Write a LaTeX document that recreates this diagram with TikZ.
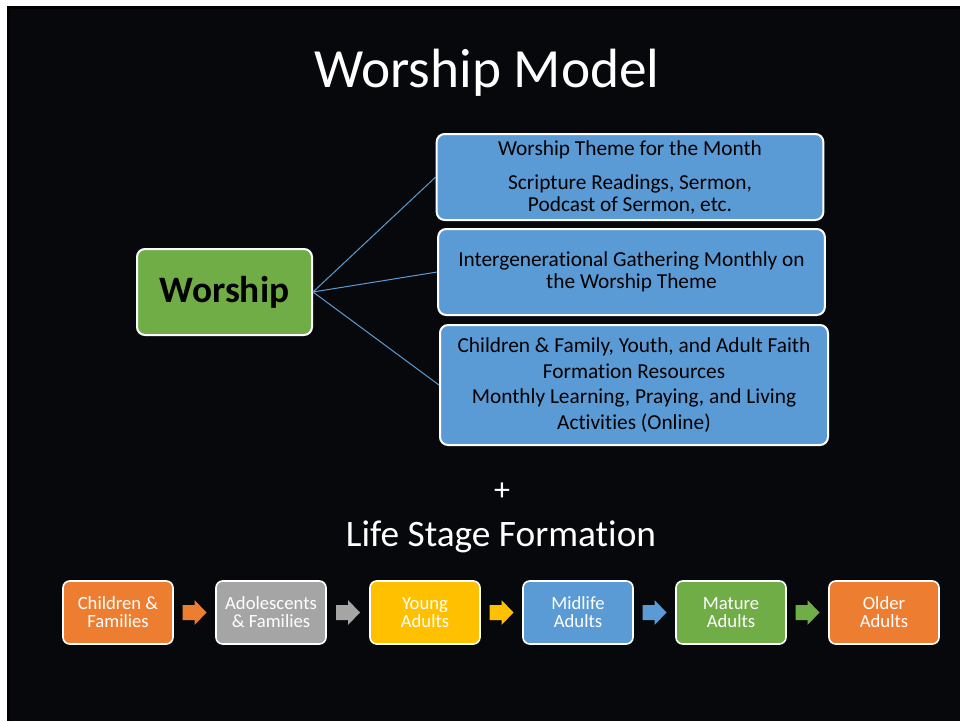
\documentclass[tikz,border=0pt]{standalone}
\usepackage{fontspec}
\setmainfont[Ligatures=NoCommon]{Carlito}
\usetikzlibrary{calc}
\definecolor{slidebg}{HTML}{07080B}
\definecolor{accorange}{HTML}{ED7D31}
\definecolor{accgray}{HTML}{A5A5A5}
\definecolor{accgold}{HTML}{FFC000}
\definecolor{accblue}{HTML}{5B9BD5}
\definecolor{accgreen}{HTML}{70AD47}
\tikzset{x=0.75pt, y=-0.75pt,
  theme box/.style={draw=white, line width=1.5pt, fill=accblue, rounded corners=6pt,
        minimum width=290pt, minimum height=64.5pt, align=center, inner sep=0pt,
        text=black, font=\fontsize{16}{16.5}\selectfont},
  core box/.style={draw=white, line width=1.5pt, fill=accgreen, rounded corners=6pt,
        minimum width=131.25pt, minimum height=64.5pt, text=black,
        font=\fontsize{28}{30}\selectfont\bfseries},
  stage box/.style={draw=white, line width=1.2pt, fill=#1, rounded corners=5pt,
        minimum width=82.5pt, minimum height=47.25pt, align=center, inner sep=0pt,
        text=white, font=\fontsize{14}{13.5}\selectfont},
  link/.style={draw=accblue, line width=0.75pt}
}
\def\StageArrow#1#2#3{%
\path ($(#1.east)!0.5!(#2.west)$) coordinate (#1 to #2);
\fill[#3] (#1 to #2) ++(-12,-7.5) -- ++(12,0) -- ++(0,-5) -- ++(12,12.5)
   -- ++(-12,12.5) -- ++(0,-5) -- ++(-12,0) -- cycle;
}

\begin{document}
\begin{tikzpicture}
\useasboundingbox (0,0) rectangle (960,721);
\fill[white] (0,0) rectangle (960,721);
\fill[black] (7,6) rectangle (960,721);
\fill[slidebg] (10,9) rectangle (960,721);

\node[text=white, font=\fontsize{41.5}{44}\selectfont] (title) at (487,73) {Worship Model};

\node[core box] (worship) at (224.5,292) {Worship};

\node[theme box] (month) at (630,177) {Worship Theme for the Month\\[9pt]
  Scripture Readings, Sermon,\\Podcast of Sermon, etc.};
\node[theme box] (gathering) at (631.5,272) {Intergenerational Gathering Monthly on\\
  the Worship Theme};
\node[theme box, minimum width=291pt, minimum height=90pt,
  font=\fontsize{16}{19.2}\selectfont] (resources) at (634,385)
  {Children \& Family, Youth, and Adult Faith\\Formation Resources\\
   Monthly Learning, Praying, and Living\\Activities (Online)};

\draw[link] (worship.east) -- (month.west);
\draw[link] (worship.east) -- (gathering.west);
\draw[link] (worship.east) -- (resources.west);

\node[text=white, font=\fontsize{24}{26}\selectfont] (plus) at (502,492) {+};
\node[text=white, font=\fontsize{28}{30}\selectfont] (lifestage) at (501,537) {Life Stage Formation};

\node[stage box=accorange] (children) at (118,612.5) {Children \&\\Families};
\node[stage box=accgray] (adolescents) at (271,612.5) {Adolescents\\\& Families};
\node[stage box=accgold] (young) at (425,612.5) {Young\\Adults};
\node[stage box=accblue] (midlife) at (578,612.5) {Midlife\\Adults};
\node[stage box=accgreen] (mature) at (731,612.5) {Mature\\Adults};
\node[stage box=accorange] (older) at (884,612.5) {Older\\Adults};

\StageArrow{children}{adolescents}{accorange}
\StageArrow{adolescents}{young}{accgray}
\StageArrow{young}{midlife}{accgold}
\StageArrow{midlife}{mature}{accblue}
\StageArrow{mature}{older}{accgreen}
\end{tikzpicture}
\end{document}
